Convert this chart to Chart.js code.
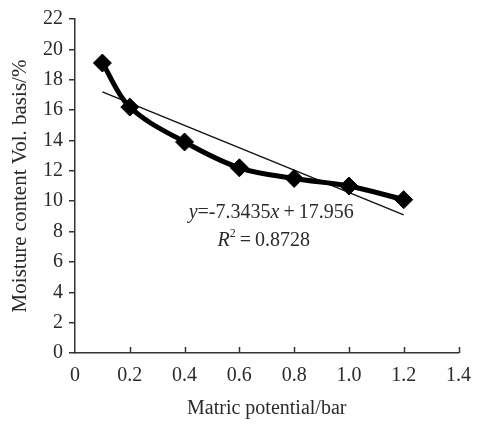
<!DOCTYPE html>
<html lang="en">
<head>
  <meta charset="UTF-8">
  <title>Moisture content vs matric potential</title>
  <script src="https://cdn.jsdelivr.net/npm/chart.js@4.4.0/dist/chart.umd.min.js"></script>
  <style>
    body { margin: 0; background: #fff; }
    canvas { display: block; }
  </style>
</head>
<body>
  <canvas id="moisture" width="482" height="424"></canvas>

  <script>
    // values
    const matricPotential = [0.1, 0.2, 0.4, 0.6, 0.8, 1.0, 1.2];
    const moistureContent = [19.1, 16.2, 13.9, 12.2, 11.5, 11.0, 10.1];
    // linear trend line end points
    const trendX = [0.1, 1.2];
    const trendY = [17.2, 9.1];
    const xTickLabels = ['0', '0.2', '0.4', '0.6', '0.8', '1.0', '1.2', '1.4'];
    const yTickLabels = ['0', '2', '4', '6', '8', '10', '12', '14', '16', '18', '20', '22'];

    const serif = "'Liberation Serif', 'Times New Roman', serif";
    const ink = '#2a2a2a';

    // equation text, drawn over the plot
    const eqLine1 = [['y', true], ['=-7.3435', false], ['x', true], ['\u2009+\u200917.956', false]];
    const eqLine2 = [['R', true], ['2', false, 'sup'], ['\u2009=\u20090.8728', false]];

    const equationPlugin = {
      id: 'equation',
      afterDraw(chart) {
        const ctx = chart.ctx;
        const xs = chart.scales.x, ys = chart.scales.y;
        function drawLine(parts, xv, yv) {
          let px = xs.getPixelForValue(xv);
          const py = ys.getPixelForValue(yv);
          ctx.save();
          ctx.fillStyle = ink;
          ctx.textBaseline = 'middle';
          ctx.textAlign = 'left';
          parts.forEach(p => {
            const sup = p[2] === 'sup';
            ctx.font = (p[1] ? 'italic ' : '') + (sup ? '12px ' : '20px ') + serif;
            ctx.fillText(p[0], px, sup ? py - 7 : py);
            px += ctx.measureText(p[0]).width;
          });
          ctx.restore();
        }
        drawLine(eqLine1, 0.415, 9.25);
        drawLine(eqLine2, 0.52, 7.4);

        // inward tick marks on the x axis
        ctx.save();
        ctx.strokeStyle = '#333';
        ctx.lineWidth = 1.5;
        xs.ticks.forEach((t, i) => {
          if (i === 0) return;
          const px = Math.round(xs.getPixelForTick(i)) + 0.5;
          ctx.beginPath();
          ctx.moveTo(px, xs.top);
          ctx.lineTo(px, xs.top - 6);
          ctx.stroke();
        });
        ctx.restore();
      }
    };

    const ctx = document.getElementById('moisture').getContext('2d');
    const moistureChart = new Chart(ctx, {
      type: 'scatter',
      data: {
        datasets: [{
          label: 'Moisture content',
          data: matricPotential.map((x, i) => ({ x: x, y: moistureContent[i] })),
          showLine: true,
          borderColor: '#000',
          backgroundColor: '#000',
          borderWidth: 5,
          tension: 0.35,
          pointStyle: 'rectRot',
          pointRadius: 9,
          pointBorderWidth: 1,
          order: 1
        }, {
          label: 'Linear trend',
          data: trendX.map((x, i) => ({ x: x, y: trendY[i] })),
          showLine: true,
          borderColor: '#111',
          borderWidth: 1.4,
          pointRadius: 0,
          order: 2
        }]
      },
      options: {
        responsive: false,
        animation: false,
        layout: { padding: { left: 0, right: 13, top: 19, bottom: 0 } },
        plugins: {
          legend: { display: false },
          tooltip: { enabled: false }
        },
        scales: {
          x: {
            type: 'linear',
            min: 0,
            max: 1.4,
            afterFit: s => { s.height = 71; },
            ticks: {
              stepSize: 0.2,
              color: ink,
              padding: 11,
              maxRotation: 0,
              font: { family: serif, size: 20 },
              callback: (v, i) => xTickLabels[i]
            },
            grid: { display: true, drawOnChartArea: false, drawTicks: false },
            border: { color: '#333', width: 1.5 },
            title: {
              display: true,
              text: 'Matric potential/bar',
              color: ink,
              font: { family: serif, size: 20 },
              padding: { top: 0, bottom: 3 }
            }
          },
          y: {
            min: 0,
            max: 22,
            afterFit: s => { s.width = 75; },
            ticks: {
              stepSize: 2,
              color: ink,
              padding: 6,
              font: { family: serif, size: 20 },
              callback: (v, i) => yTickLabels[i]
            },
            grid: { drawOnChartArea: false, drawTicks: true, tickLength: 6, color: '#333', lineWidth: 1.5 },
            border: { color: '#333', width: 1.5 },
            title: {
              display: true,
              text: 'Moisture content Vol. basis/%',
              color: ink,
              font: { family: serif, size: 21 },
              padding: { top: 8, bottom: 0 }
            }
          }
        }
      },
      plugins: [equationPlugin]
    });
  </script>
</body>
</html>
